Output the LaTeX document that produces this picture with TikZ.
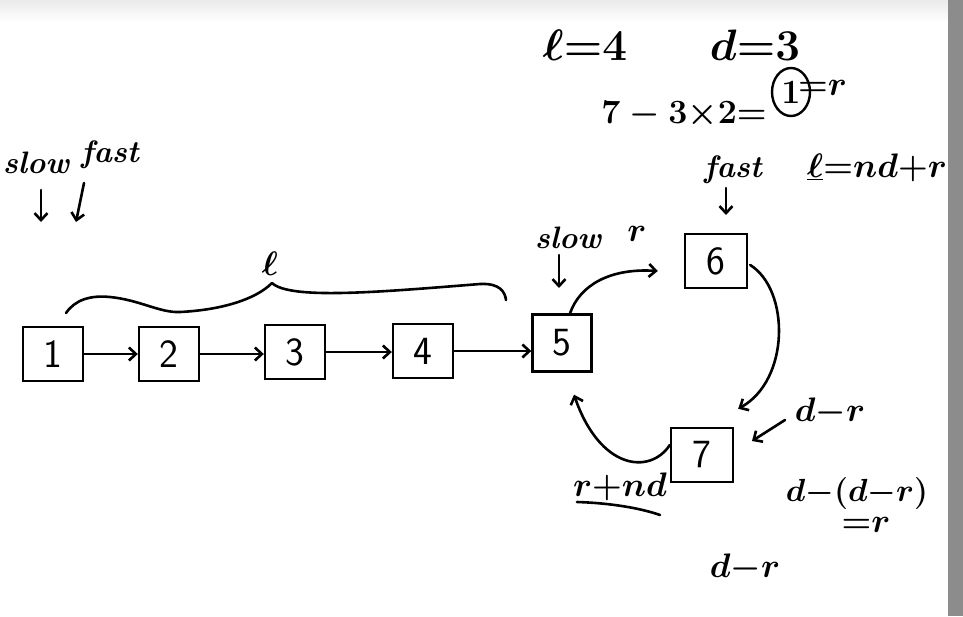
\RequirePackage{fix-cm}
\documentclass[tikz,border=0pt]{standalone}
\usetikzlibrary{arrows.meta,calc,shapes.geometric}
\begin{document}
\begin{tikzpicture}[x=1pt,y=-1pt,
  ink/.style={line width=2.6pt,line cap=round,line join=round,black},
  arr/.style={ink,-{Straight Barb[length=7pt,width=13pt,line width=2.6pt]}},
  cell/.style={draw,line width=2.4pt,minimum width=60pt,minimum height=54pt,inner sep=0pt,font=\sffamily\fontsize{40}{40}\selectfont},
  hand/.style={font=\fontsize{31}{33}\selectfont\bfseries\itshape,inner sep=1pt},
  handm/.style={font=\fontsize{34}{36}\selectfont\boldmath,inner sep=1pt}]
\useasboundingbox (0,0) rectangle (963,616);
\shade[top color=black!8,bottom color=white] (0,0) rectangle (948,22);
\fill[black!45] (948,0) rectangle (963,616);
% cells
\node[cell] (n1) at (53,354) {1};
\node[cell] (n2) at (169,354) {2};
\node[cell] (n3) at (295,352) {3};
\node[cell] (n4) at (423,351) {4};
\node[cell,minimum width=59pt,minimum height=57pt] (n5) at (562,343) {5};
\node[cell,minimum width=62pt] (n6) at (716,261) {6};
\node[cell,minimum width=62pt] (n7) at (702,455) {7};
% links
\draw[arr] (n1.east) -- (n1.east -| n2.west);
\draw[arr] (n2.east) -- (n2.east -| n3.west);
\draw[arr] (n3.east) -- (n3.east -| n4.west);
\draw[arr] (n4.east) -- (n4.east -| n5.west);
\draw[arr] ($(n5.north)+(8,0)$) .. controls (580,285) and (610,268) .. ($(n6.west)+(-26,10)$);
\draw[arr] ($(n6.east)+(2,4)$) .. controls (790,290) and (790,380) .. ($(n7.north east)+(4,-18)$);
\draw[arr] ($(n7.west)+(0,-10)$) .. controls (650,475) and (600,470) .. ($(n5.south)+(12,22)$);
% brace
\coordinate (bl) at (66,313);
\coordinate (bm) at (272,283);
\coordinate (br) at (506,300);
\draw[ink] (bl) .. controls (75,300) and (90,295) .. (110,297) .. controls (140,300) and (160,313) .. (180,312)
  .. controls (220,310) and (255,300) .. (bm)
  .. controls (290,300) and (380,292) .. (480,284) .. controls (500,283) and (505,292) .. (br);
\node[handm] (lab) at (270,264) {$\ell$};
% slow / fast start
\node[hand] (s1) at (36,163) {slow};
\node[hand] (f1) at (110,155) {fast};
\coordinate (s1a) at (41,190);
\coordinate (s1b) at (41,222);
\coordinate (f1a) at (84,183);
\coordinate (f1b) at (76,222);
\draw[arr] (s1a) -- (s1b);
\draw[arr] (f1a) -- (f1b);
% top formulas
\node[handm,font=\fontsize{44}{46}\selectfont\boldmath] (t1) at (585,45) {$\ell{=}4$};
\node[handm,font=\fontsize{44}{46}\selectfont\boldmath] (t2) at (755,45) {$d{=}3$};
\node[handm] (t3) at (684,115) {$7-3{\times}2{=}$};
\node[handm,font=\fontsize{34}{36}\selectfont\bfseries,ellipse,draw,line width=2.4pt,inner sep=0pt,minimum width=38pt,minimum height=48pt] (t4) at (791,92) {1};
\node[handm,anchor=west] (t5) at (797,88) {${=}r$};
% fast at 6
\node[hand] (f2) at (733,170) {fast};
\coordinate (f2a) at (726,188);
\coordinate (f2b) at (726,215);
\draw[arr] (f2a) -- (f2b);
\node[handm,anchor=west] (eq) at (806,168) {$\underline{\ell}{=}nd{+}r$};
% slow at 5
\node[hand] (s2) at (568,238) {slow};
\node[handm] (r1) at (637,234) {$r$};
\coordinate (s2a) at (559,255);
\coordinate (s2b) at (559,288);
\draw[arr] (s2a) -- (s2b);
% d-r near 7
\node[handm] (dr1) at (830,412) {$d{-}r$};
\coordinate (dra) at (785,420);
\coordinate (drb) at (752,441);
\draw[arr] (dra) -- (drb);
% r+nd
\node[handm] (rnd) at (620,487) {$r{+}nd$};
\coordinate (ua) at (577,502);
\coordinate (ub) at (660,515);
\draw[ink] (ua) .. controls (610,503) and (640,508) .. (ub);
% right notes
\node[handm,font=\fontsize{32}{34}\selectfont\boldmath] (dd) at (857,493) {$d{-}(d{-}r)$};
\node[handm] (er) at (866,525) {${=}r$};
\node[handm] (dr2) at (745,568) {$d{-}r$};
\end{tikzpicture}
\end{document}
